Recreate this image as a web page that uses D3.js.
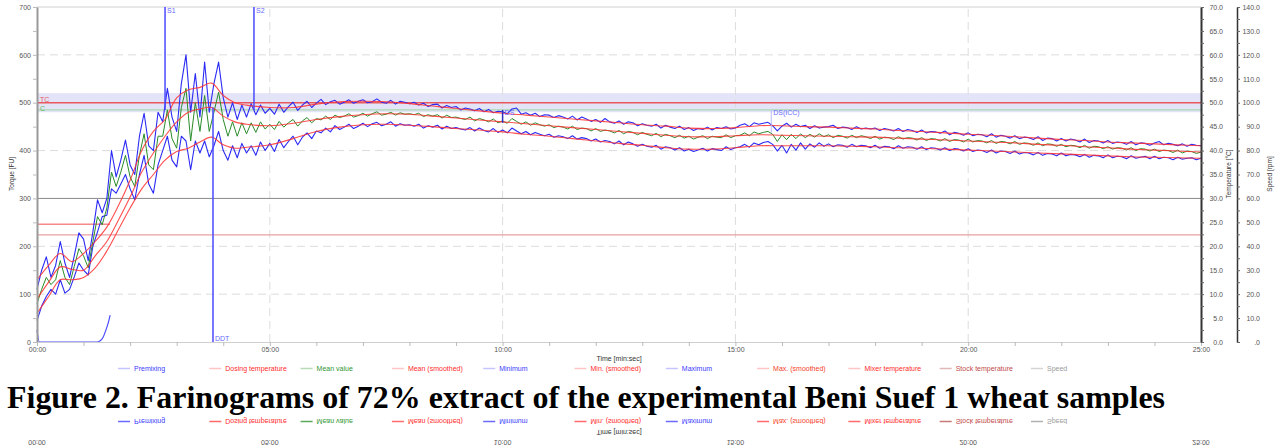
<!DOCTYPE html>
<html>
<head>
<meta charset="utf-8">
<style>
  body { margin: 0; background: #fff; }
  svg text { font-family: 'Liberation Sans', Arial, sans-serif; }
  .tick text { font-size: 7px; fill: #555; }
  .caption { font-family: 'Liberation Serif', 'Times New Roman', serif; font-weight: bold; fill: #000; }
</style>
</head>
<body>
<svg id="chart" width="1282" height="445"></svg>
<script src="https://d3js.org/d3.v7.min.js"></script>
<script>
// sampled every 0.1 min, 00:00 .. 25:00
var STEP = 0.1;

var maximum = [
  110,150,178,135,160,210,165,135,180,228, 215,170,230,297,270,300,400,345,380,422,
  370,350,430,478,410,400,480,460,530,470, 440,540,600,480,561,470,585,480,540,585,
  510,470,500,465,495,470,498,475,495,478,
  488,476,497,480,492,501,484,495,503,490, 499,507,496,502,505,497,501,506,499,503,
  506,500,502,508,501,499,505,497,503,501, 498,501,495,499,492,496,497,489,494,490,
  492,485,489,487,483,488,481,486,479,482, 481,477,487,489,476,479,474,478,471,475,
  474,469,473,470,466,472,464,470,466,461, 465,459,467,460,457,462,455,460,458,452,
  456,453,451,455,447,453,449,446,451,444, 448,442,446,444,449,443,448,446,450,445,
  447,453,456,450,458,455,457,459,452,441, 451,457,449,455,450,453,446,452,447,449,
  450,453,446,449,448,444,450,445,447,445, 447,442,446,444,441,446,440,444,442,438,
  443,437,440,439,436,441,433,438,436,432, 437,431,434,433,429,435,428,432,430,426,
  431,425,428,427,423,429,421,426,425,420, 425,420,424,422,418,424,417,421,420,416,
  421,415,418,417,413,419,412,416,415,411, 416,419,412,415,413,410,414,409,413,411,
  410
];

var minimum = [
  45,75,95,110,100,130,102,110,136,165, 150,140,200,230,262,265,320,311,330,350,
  320,297,350,390,330,311,370,400,430,380, 366,430,420,360,420,395,420,387,410,440,
  400,380,410,385,415,395,410,390,418,400,
  415,398,423,406,419,430,412,428,437,425, 441,437,447,439,452,444,449,455,446,451,
  457,450,456,459,452,455,460,451,456,453, 454,451,455,447,452,449,453,445,451,446,
  448,445,443,448,441,447,442,439,446,438, 443,437,447,441,435,440,433,438,434,431,
  434,428,431,429,425,431,424,427,425,420, 424,418,421,419,414,420,412,418,414,409,
  413,409,407,411,403,408,406,401,406,399, 403,398,401,405,399,404,402,400,408,402,
  406,408,413,407,416,412,417,419,413,399, 411,395,413,401,416,403,414,407,416,409,
  414,408,412,411,407,413,408,411,410,406, 411,405,409,408,404,410,405,408,407,403,
  408,402,406,405,401,406,400,404,403,399, 404,398,401,400,396,401,395,399,398,394,
  399,393,396,395,391,396,390,394,393,389, 395,389,392,391,387,392,386,390,389,385,
  391,385,388,387,383,389,384,386,388,383, 388,383,386,385,381,386,382,384,385,381,
  384
];

var meanValue = [
  80,110,135,120,130,170,135,120,158,195, 180,155,210,262,245,280,355,325,355,390,
  345,325,390,435,370,360,430,430,485,425, 405,490,530,420,500,440,515,440,480,522,
  465,430,460,430,458,435,458,438,460,445,
  455,444,461,449,458,465,451,462,469,458, 467,464,472,465,474,469,472,477,470,473,
  478,472,477,481,474,476,480,474,479,476, 477,475,478,471,475,472,475,468,474,469,
  470,467,465,470,462,467,464,460,466,458, 462,457,467,461,455,460,453,458,454,451,
  454,448,451,449,445,451,444,447,446,441, 446,440,443,441,437,442,435,440,438,433,
  438,434,431,436,429,434,431,427,432,426, 430,424,428,431,425,430,428,427,433,427,
  431,432,437,431,439,435,438,440,434,419, 433,423,434,425,435,427,434,428,435,429,
  433,427,432,430,426,432,427,431,429,425, 430,424,428,427,423,429,424,427,426,422,
  427,421,425,424,420,425,419,423,422,418, 424,418,421,420,416,421,415,419,418,414,
  419,413,416,415,411,416,410,414,413,409, 413,408,411,410,406,411,405,409,408,404,
  408,403,406,405,401,406,400,404,403,399, 403,398,401,400,396,401,395,399,398,394,
  397
];

// smoothed curves
var smoothTime = [0,0.25,0.5,0.75,1,1.25,1.5,1.75,2,2.25,2.5,2.75,3,3.25,3.5,3.75,4,4.25,4.5,
  5,5.5,6,6.5,7,7.5,8,8.5,9,9.5,10,10.5,11,11.5,12,12.5,13,13.5,14,14.5,15,15.5,16,16.5,
  17,17.5,18,18.5,19,19.5,20,20.5,21,21.5,22,22.5,23,23.5,24,24.5,25];
var maxSmoothed = [130,160,185,168,185,210,240,285,338,400,440,465,510,527,532,541,515,500,495,
  490,490,497,502,503,502,498,493,488,483,478,474,470,466,462,458,454,451,447,446,448,452,452,450,
  449,447,445,442,440,437,434,432,429,426,423,421,418,416,414,412,410];
var meanSmoothed = [90,125,157,152,150,180,210,255,303,355,395,430,460,480,487,490,472,460,455,
  452,457,465,471,475,477,476,472,468,464,460,456,452,448,444,440,436,432,429,429,431,433,432,431,
  430,429,428,426,424,422,420,418,416,413,411,408,406,403,401,399,397];
var minSmoothed = [60,95,130,130,135,155,190,235,280,320,350,380,398,405,418,428,412,405,407,
  412,425,440,449,454,455,453,450,446,443,439,434,430,425,420,415,411,406,403,403,406,410,410,410,
  410,409,408,406,405,403,401,399,397,395,393,391,389,387,386,385,384];

var premixTime = [0, 0.05, 1.29, 1.35, 1.42, 1.48, 1.53, 1.57];
var premixValue = [25, 0, 0, 2, 10, 25, 40, 56];

var targetConsistency = 500, consistency = 485, bandLow = 480, bandHigh = 520;
var dosingTemp = 24.6, dosingEnd = 1.57, mixerTemp = 22.4, speedRpm = 60;

var markerLabels = ['S1', 'S2', 'DDT', 'DS', 'DS(ICC)'];
var markerTimes = [2.75, 4.66, 3.78, 10.0, 15.77];
var markerTop = [700, 700, 490, 485, 485];
var markerBottom = [485, 485, 0, 458, 437];

var legendNames = ['Premixing', 'Dosing temperature', 'Mean value', 'Mean (smoothed)', 'Minimum',
  'Min. (smoothed)', 'Maximum', 'Max. (smoothed)', 'Mixer temperature', 'Stock temperature', 'Speed'];
var legendText = ['#3b3bff', '#ff2b2b', '#2f962f', '#ff2b2b', '#3b3bff', '#ff2b2b', '#3b3bff',
  '#f5402a', '#ff2b2b', '#c24a4a', '#9a9a9a'];
var legendLight = ['#c4c4ff', '#ffc4c4', '#b6dcb6', '#ffc4c4', '#c4c4ff', '#ffc4c4', '#c4c4ff',
  '#ffc4c4', '#ffc4c4', '#e0b8b8', '#d4d4d4'];
var legendStrong = ['#6a6aff', '#ff6a6a', '#5aaa5a', '#ff6a6a', '#6a6aff', '#ff6a6a', '#6a6aff',
  '#ff6a6a', '#ff6a6a', '#c87878', '#b0b0b0'];

var caption = 'Figure 2. Farinograms of 72% extract of the experimental Beni Suef 1 wheat samples';

var svg = d3.select('#chart');

var x = d3.scaleLinear().domain([0, 25]).range([37, 1201]);
var y = d3.scaleLinear().domain([0, 700]).range([342, 7]);
var yTemp = d3.scaleLinear().domain([0, 70]).range([342, 7]);
var ySpeed = d3.scaleLinear().domain([0, 140]).range([342, 7]);

function mmss(d) {
  return d3.format('02d')(d) + ':00';
}

// band
svg.append('rect')
  .attr('x', x(0)).attr('width', x(25) - x(0))
  .attr('y', y(bandHigh)).attr('height', y(bandLow) - y(bandHigh))
  .style('fill', '#e4e4f8');

// grid
var grid = svg.append('g');
grid.selectAll('.hg').data([100, 200, 400, 500, 600]).enter().append('line')
  .attr('x1', x(0)).attr('x2', x(25))
  .attr('y1', d => y(d)).attr('y2', d => y(d))
  .style('stroke', '#dcdcdc').style('stroke-dasharray', '8,5');
grid.selectAll('.vg').data([5, 10, 15, 20]).enter().append('line')
  .attr('x1', d => x(d)).attr('x2', d => x(d))
  .attr('y1', y(0)).attr('y2', y(700))
  .style('stroke', '#dcdcdc').style('stroke-dasharray', '8,5');
grid.append('line')
  .attr('x1', x(0)).attr('x2', x(25)).attr('y1', y(700)).attr('y2', y(700))
  .style('stroke', '#d0d0d0');

// reference lines
svg.append('line')
  .attr('x1', x(0)).attr('x2', x(25))
  .attr('y1', ySpeed(speedRpm)).attr('y2', ySpeed(speedRpm))
  .style('stroke', '#8a8a8a').style('stroke-width', 1);
svg.append('line')
  .attr('x1', x(0)).attr('x2', x(25))
  .attr('y1', yTemp(mixerTemp)).attr('y2', yTemp(mixerTemp))
  .style('stroke', '#eaa0a0').style('stroke-width', 1.2);
svg.append('line')
  .attr('x1', x(0)).attr('x2', x(dosingEnd))
  .attr('y1', yTemp(dosingTemp)).attr('y2', yTemp(dosingTemp))
  .style('stroke', '#f58a8a').style('stroke-width', 1.5);
svg.append('line')
  .attr('x1', x(0)).attr('x2', x(25))
  .attr('y1', y(targetConsistency)).attr('y2', y(targetConsistency))
  .style('stroke', '#e8585e').style('stroke-width', 1.5);
svg.append('line')
  .attr('x1', x(0)).attr('x2', x(25))
  .attr('y1', y(consistency)).attr('y2', y(consistency))
  .style('stroke', '#9fd89f').style('stroke-width', 1);
svg.append('text').attr('x', x(0) + 3).attr('y', y(targetConsistency) - 1)
  .style('font-size', '7px').style('fill', '#e8585e').text('TC');
svg.append('text').attr('x', x(0) + 3).attr('y', y(consistency) + 1)
  .style('font-size', '7px').style('fill', '#5cb85c').text('C');

// curves
var line = d3.line()
  .x((d, i) => x(i * STEP))
  .y(d => y(d));

var smoothLine = d3.line()
  .x((d, i) => x(smoothTime[i]))
  .y(d => y(d))
  .curve(d3.curveCatmullRom.alpha(0.5));

svg.append('path').datum(premixValue)
  .attr('d', d3.line().x((d, i) => x(premixTime[i])).y(d => y(d)).curve(d3.curveMonotoneX))
  .style('fill', 'none').style('stroke', '#4d4dff').style('stroke-width', 1.2);

[maximum, minimum].forEach(function(s) {
  svg.append('path').datum(s).attr('d', line)
    .style('fill', 'none').style('stroke', '#2b2bf5').style('stroke-width', 1.1)
    .style('stroke-linejoin', 'round');
});
svg.append('path').datum(meanValue).attr('d', line)
  .style('fill', 'none').style('stroke', '#2a8c2a').style('stroke-width', 1)
  .style('stroke-linejoin', 'round');
[maxSmoothed, meanSmoothed, minSmoothed].forEach(function(s) {
  svg.append('path').datum(s).attr('d', smoothLine)
    .style('fill', 'none').style('stroke', '#ff3030').style('stroke-width', 1.1)
    .style('opacity', 0.85);
});

// markers
markerLabels.forEach(function(name, i) {
  var last = name === 'DS(ICC)';
  svg.append('line')
    .attr('x1', x(markerTimes[i])).attr('x2', x(markerTimes[i]))
    .attr('y1', y(markerTop[i])).attr('y2', y(markerBottom[i]))
    .style('stroke', last ? '#b8b8ff' : name === 'DS' ? '#3030c0' : '#4a4aff')
    .style('stroke-width', last ? 1 : 1.5);
  var ty = name === 'S1' || name === 'S2' ? y(700) + 6 :
    name === 'DDT' ? y(0) - 1 : y(markerTop[i]) + 5;
  svg.append('text')
    .attr('x', x(markerTimes[i]) + 2).attr('y', ty)
    .style('font-size', '7px').style('fill', '#6a6aff').text(name);
});

// axes
var left = svg.append('g').attr('transform', 'translate(' + x(0) + ',0)')
  .call(d3.axisLeft(y).tickValues(d3.range(0, 701, 50)).tickSize(4).tickSizeOuter(0)
    .tickFormat(d => d % 100 === 0 ? d : ''));
left.select('.domain').style('stroke', '#9a9a9a').style('stroke-width', 2);
left.selectAll('.tick line').style('stroke', '#bbb');
left.selectAll('.tick text').attr('x', -6);

var bottom = svg.append('g').attr('transform', 'translate(0,' + y(0) + ')')
  .call(d3.axisBottom(x).tickValues(d3.range(0, 26, 1)).tickSize(4).tickSizeOuter(0)
    .tickPadding(1).tickFormat(d => d % 5 === 0 ? mmss(d) : ''));
bottom.select('.domain').style('stroke', '#cfcfcf');
bottom.selectAll('.tick line').style('stroke', '#bbb');

var temp = svg.append('g').attr('transform', 'translate(' + x(25) + ',0)')
  .call(d3.axisRight(yTemp).tickValues(d3.range(0, 70.1, 2.5)).tickSize(3).tickSizeOuter(0)
    .tickFormat(d => d % 5 === 0 ? d.toFixed(1) : ''));
temp.select('.domain').style('stroke', '#333').style('stroke-width', 2);
temp.selectAll('.tick line').style('stroke', '#666');
temp.selectAll('.tick text').attr('x', 22).attr('text-anchor', 'end');

var speed = svg.append('g').attr('transform', 'translate(1237,0)')
  .call(d3.axisRight(ySpeed).tickValues(d3.range(0, 140.1, 5)).tickSize(3).tickSizeOuter(0)
    .tickFormat(d => d % 10 === 0 ? (d ? d.toFixed(1) : '.0') : ''));
speed.select('.domain').style('stroke', '#333').style('stroke-width', 1.5);
speed.selectAll('.tick line').style('stroke', '#666');
speed.selectAll('.tick text').attr('x', 23).attr('text-anchor', 'end');

function axisTitle(text, cx, cy) {
  svg.append('text')
    .attr('transform', 'translate(' + cx + ',' + cy + ') rotate(-90)')
    .attr('text-anchor', 'middle').attr('dy', '0.35em')
    .style('font-size', '6.5px').style('fill', '#333').text(text);
}
axisTitle('Torque [FU]', 12, 174);
axisTitle('Temperature [°C]', 1229, 174);
axisTitle('Speed [rpm]', 1270, 174);

// legend + axis labels, drawn twice (second copy mirrored under the caption)
function drawFooter(g, lineColors) {
  g.append('text').attr('x', 619).attr('y', 360.5).attr('text-anchor', 'middle')
    .style('font-size', '7px').style('fill', '#333').text('Time [min:sec]');
  var items = g.selectAll('.item').data(legendNames).enter().append('g')
    .attr('transform', (d, i) => 'translate(' + (118 + i * 91.3) + ',368.5)');
  items.append('line').attr('x1', 0).attr('x2', 12)
    .style('stroke', (d, i) => lineColors[i]).style('stroke-width', 1.5);
  items.append('text').attr('x', 16).attr('dy', '0.35em')
    .style('font-size', '7px').style('fill', (d, i) => legendText[i]).text(d => d);
}
drawFooter(svg.append('g'), legendLight);

var mirror = svg.append('g').attr('transform', 'translate(0,790) scale(1,-1)');
drawFooter(mirror, legendStrong);
mirror.selectAll('.mt').data([0, 5, 10, 15, 20, 25]).enter().append('text')
  .attr('x', d => x(d)).attr('y', 350.5).attr('text-anchor', 'middle')
  .style('font-size', '7px').style('fill', '#555').text(mmss);

svg.append('text').attr('class', 'caption')
  .attr('x', 7).attr('y', 407.5)
  .attr('textLength', 1158).attr('lengthAdjust', 'spacingAndGlyphs')
  .style('font-size', '32px').text(caption);
</script>
</body>
</html>
